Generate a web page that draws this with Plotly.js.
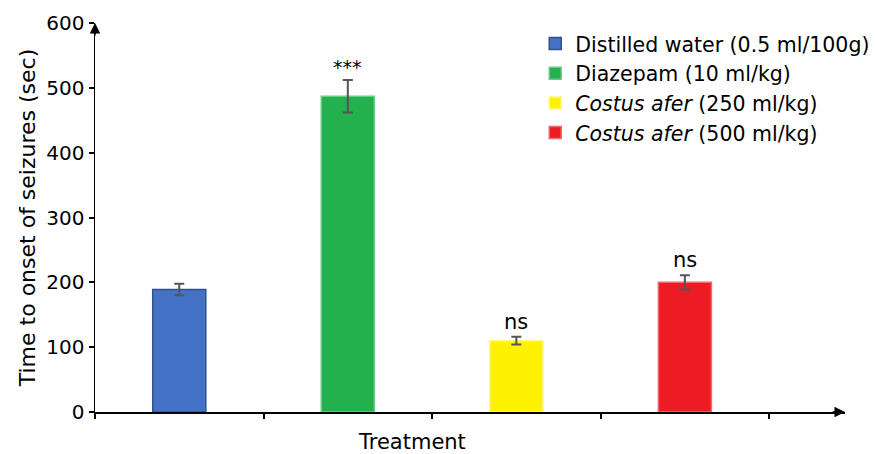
<!DOCTYPE html>
<html>
<head>
<meta charset="utf-8">
<script src="https://cdn.plot.ly/plotly-3.0.1.min.js"></script>
<style>
  html, body { margin: 0; padding: 0; background: #ffffff; }
  #chart { width: 875px; height: 454px; }
</style>
</head>
<body>
<div id="chart"></div>
<script>
// Treatment groups (one bar each)
const groups = ['Distilled water', 'Diazepam', 'Costus afer 250', 'Costus afer 500'];
const legendNames = [
  'Distilled water (0.5 ml/100g)',
  'Diazepam (10 ml/kg)',
  '<i>Costus afer</i> (250 ml/kg)',
  '<i>Costus afer</i> (500 ml/kg)'
];
// Mean time to onset of seizures (sec) and its error (SEM)
const onsetMean = [189, 487, 110, 200];
const onsetErr = [9, 25, 6, 11];
// Significance marks over each bar
const significance = ['', '***', 'ns', 'ns'];

const fillColors = ['#4472C4', '#22B14C', '#FFF200', '#ED1C24'];
const edgeColors = ['#2F528F', '#6CCB86', '#FFF58A', '#F0696E'];

const FONT = 'DejaVu Sans, Arial, sans-serif';

const traces = groups.map((g, i) => ({
  type: 'bar',
  name: legendNames[i],
  x: [g],
  y: [onsetMean[i]],
  width: 0.315,
  marker: { color: fillColors[i], line: { color: edgeColors[i], width: 1.5 } },
  error_y: { type: 'data', array: [onsetErr[i]], visible: true, color: '#555555', thickness: 2, width: 5 },
  hoverinfo: 'x+y'
}));

const annotations = [];
groups.forEach((g, i) => {
  if (!significance[i]) return;
  const stars = significance[i] === '***';
  annotations.push({
    x: g, y: onsetMean[i] + onsetErr[i], xref: 'x', yref: 'y',
    text: significance[i], showarrow: false,
    yanchor: 'bottom', yshift: stars ? 0 : 1,
    font: { family: FONT, size: stars ? 19 : 21, color: '#000000' }
  });
});

// x-axis title
annotations.push({
  x: 0.4227, y: 0, xref: 'paper', yref: 'paper', yanchor: 'top', yshift: -16,
  text: 'Treatment', showarrow: false,
  font: { family: FONT, size: 21, color: '#000000' }
});

// Arrow heads at the ends of both axes
annotations.push({
  x: -0.5, y: 600, xref: 'x', yref: 'y', axref: 'pixel', ayref: 'pixel',
  ax: 0, ay: 14, text: '', showarrow: true,
  arrowhead: 2, arrowsize: 1.4, arrowwidth: 1.5, arrowcolor: '#000000', standoff: 0
});
annotations.push({
  x: 3.95, y: 0, xref: 'x', yref: 'y', axref: 'pixel', ayref: 'pixel',
  ax: -14, ay: 0, text: '', showarrow: true,
  arrowhead: 2, arrowsize: 1.4, arrowwidth: 1.5, arrowcolor: '#000000', standoff: 0
});

const layout = {
  width: 875,
  height: 454,
  margin: { l: 95, r: 30, t: 23, b: 42, autoexpand: false },
  paper_bgcolor: '#ffffff',
  plot_bgcolor: '#ffffff',
  barmode: 'overlay',
  font: { family: FONT, color: '#000000' },
  showlegend: true,
  legend: {
    x: 0.587, y: 0.998, xanchor: 'left', yanchor: 'top',
    bgcolor: 'rgba(0,0,0,0)',
    font: { family: FONT, size: 20.5, color: '#000000' }
  },
  xaxis: {
    type: 'category',
    categoryorder: 'array',
    categoryarray: groups,
    range: [-0.5, 3.95],
    showticklabels: false,
    tickson: 'boundaries',
    ticks: 'outside', ticklen: 5, tickwidth: 2, tickcolor: '#000000',
    showline: true, linecolor: '#000000', linewidth: 1.5,
    showgrid: false, zeroline: false, fixedrange: true
  },
  yaxis: {
    range: [0, 600],
    tickvals: [0, 100, 200, 300, 400, 500, 600],
    ticks: 'outside', ticklen: 5, tickwidth: 2, tickcolor: '#000000',
    tickfont: { family: FONT, size: 20, color: '#000000' },
    showline: true, linecolor: '#000000', linewidth: 1.5,
    showgrid: false, zeroline: false, fixedrange: true,
    title: { text: 'Time to onset of seizures (sec)', standoff: 4,
             font: { family: FONT, size: 22, color: '#000000' } }
  },
  annotations: annotations
};

Plotly.newPlot('chart', traces, layout, { displayModeBar: false, staticPlot: true });
</script>
</body>
</html>
